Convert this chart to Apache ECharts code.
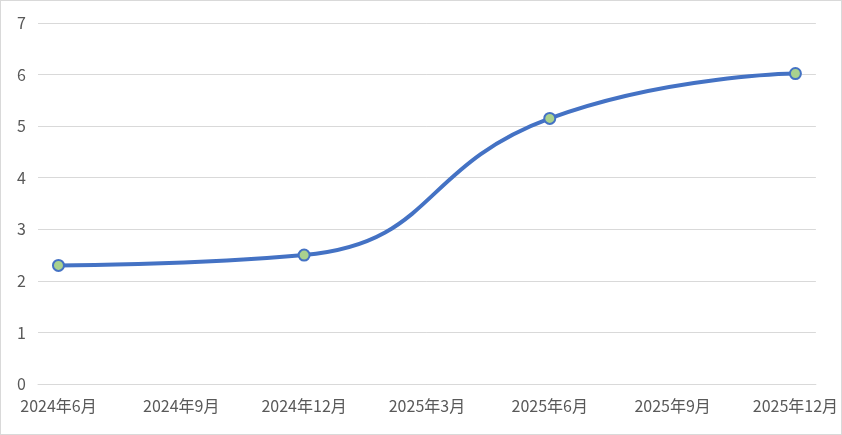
<!DOCTYPE html>
<html><head><meta charset="utf-8">
<script src="https://cdn.jsdelivr.net/npm/echarts@6/dist/echarts.min.js"></script>
<style>html,body{margin:0;padding:0;background:#fff}#c{width:842px;height:435px;box-sizing:border-box;border:1px solid #d9d9d9}</style>
</head><body><div id="c"></div>
<script>
// monthly categories Jun 2024 .. Dec 2025
const months = ['2024年6月','2024年7月','2024年8月','2024年9月','2024年10月','2024年11月','2024年12月',
  '2025年1月','2025年2月','2025年3月','2025年4月','2025年5月','2025年6月',
  '2025年7月','2025年8月','2025年9月','2025年10月','2025年11月','2025年12月'];
const values = [2.3,null,null,null,null,null,2.5,null,null,null,null,null,5.15,null,null,null,null,null,6.02];
const yTicks = [0,1,2,3,4,5,6,7];

const chart = echarts.init(document.getElementById('c'));
const font = '"Noto Sans CJK SC", "Noto Sans", sans-serif';
chart.setOption({
  animation:false,
  grid:{left:37,right:23,top:22,bottom:50,containLabel:false},
  xAxis:{type:'category',data:months,boundaryGap:true,
    axisLine:{lineStyle:{color:'#d9d9d9',width:1}},
    axisTick:{interval:2,length:5,lineStyle:{color:'#d9d9d9'}},
    axisLabel:{interval:2,color:'#595959',fontSize:16,fontFamily:font,margin:14},
    splitLine:{show:false}},
  yAxis:{type:'value',min:yTicks[0],max:yTicks[yTicks.length-1],interval:1,
    axisLine:{show:false},axisTick:{show:false},
    axisLabel:{color:'#595959',fontSize:16,fontFamily:font,margin:12},
    splitLine:{lineStyle:{color:'#d9d9d9',width:1}}},
  series:[{type:'line',data:values,connectNulls:true,smooth:0.5,
    lineStyle:{color:'#4472c4',width:4},
    symbol:'circle',symbolSize:11,
    itemStyle:{color:'#a9d18e',borderColor:'#4472c4',borderWidth:2}}]
});
</script></body></html>
